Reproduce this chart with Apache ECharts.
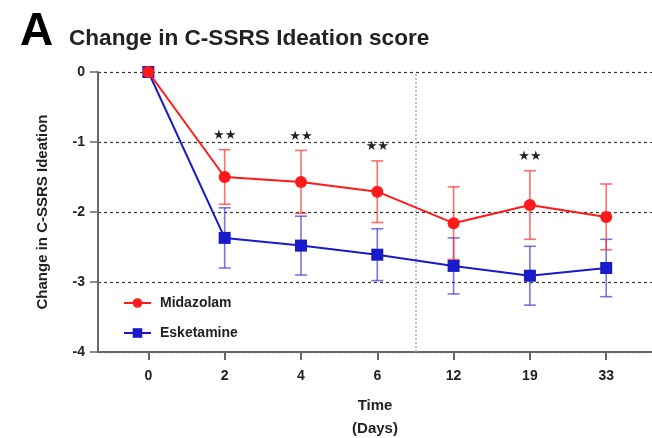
<!DOCTYPE html>
<html>
<head>
<meta charset="utf-8">
<script src="https://cdn.jsdelivr.net/npm/echarts@6/dist/echarts.min.js"></script>
<style>
  html, body { margin: 0; padding: 0; background: #fff; }
  #chart { width: 652px; height: 438px; }
</style>
</head>
<body>
<div id="chart"></div>
<script>
// Visit days (x categories)
const days = ['0', '2', '4', '6', '12', '19', '33'];

// Mean change from baseline and error half-widths
const midazolamMean = [0, -1.50, -1.57, -1.71, -2.16, -1.90, -2.07];
const midazolamErr  = [0, 0.39, 0.45, 0.44, 0.52, 0.49, 0.47];
const esketamineMean = [0, -2.37, -2.48, -2.61, -2.77, -2.91, -2.80];
const esketamineErr  = [0, 0.43, 0.42, 0.37, 0.40, 0.42, 0.41];

// Between-group significance markers per visit
const significance = ['', '★★', '★★', '★★', '', '★★', ''];

// Y-axis ticks
const yTicks = [0, -1, -2, -3, -4];

const FONT = "'Liberation Sans', Arial, sans-serif";
const RED = '#ff1a1a';
const BLUE = '#1a1ac8';
const RED_BAR = 'rgba(255,60,60,0.75)';
const BLUE_BAR = 'rgba(60,60,210,0.7)';

const xIdx = days.map((d, i) => i);

function meanData(mean) { return mean.map((v, i) => [i, v]); }
function errData(mean, err, sig) {
  return mean.map((v, i) => [i, v - err[i], v + err[i], sig ? sig[i] : '']);
}

function errorBarRender(color) {
  return function (params, api) {
    const x = api.value(0);
    const lo = api.coord([x, api.value(1)]);
    const hi = api.coord([x, api.value(2)]);
    const half = 6;
    const style = { stroke: color, lineWidth: 1.6, fill: null };
    const children = [];
    if (Math.abs(lo[1] - hi[1]) > 0.5) {
      children.push(
        { type: 'line', shape: { x1: lo[0], y1: lo[1], x2: hi[0], y2: hi[1] }, style },
        { type: 'line', shape: { x1: lo[0] - half, y1: lo[1], x2: lo[0] + half, y2: lo[1] }, style },
        { type: 'line', shape: { x1: hi[0] - half, y1: hi[1], x2: hi[0] + half, y2: hi[1] }, style }
      );
    }
    const mark = api.value(3);
    if (mark) {
      children.push({
        type: 'text',
        style: {
          x: hi[0], y: hi[1] - 14, text: mark,
          fill: '#222', font: "13px 'DejaVu Sans', sans-serif",
          align: 'center', verticalAlign: 'middle'
        }
      });
    }
    return { type: 'group', children };
  };
}

const chart = echarts.init(document.getElementById('chart'), null, { renderer: 'canvas' });

chart.setOption({
  animation: false,
  backgroundColor: '#fff',
  title: [
    { text: 'A', left: 15, top: 4,
      textStyle: { fontFamily: FONT, fontSize: 46, fontWeight: 'bold', color: '#000' } },
    { text: 'Change in C-SSRS Ideation score', left: 64, top: 22,
      textStyle: { fontFamily: FONT, fontSize: 22.6, fontWeight: 'bold', color: '#222' } }
  ],
  grid: { left: 98, right: 0, top: 72, bottom: 86, containLabel: false, outerBoundsMode: 'none' },
  legend: {
    orient: 'vertical', left: 118, top: 291,
    itemWidth: 27, itemHeight: 12, itemGap: 16,
    data: ['Midazolam', 'Esketamine'],
    textStyle: { fontFamily: FONT, fontSize: 14, fontWeight: 'bold', color: '#222', padding: [0, 0, 0, 4] }
  },
  xAxis: {
    type: 'value', min: -0.66, max: 6.6,
    name: 'Time\n(Days)', nameLocation: 'middle', nameGap: 42,
    nameTextStyle: { fontFamily: FONT, fontSize: 15, fontWeight: 'bold', color: '#222', lineHeight: 23 },
    axisLine: { show: true, onZero: false, lineStyle: { color: '#666', width: 2 } },
    axisTick: { show: true, length: 8, customValues: xIdx, lineStyle: { color: '#666', width: 2 } },
    axisLabel: {
      customValues: xIdx, margin: 17,
      formatter: v => days[Math.round(v)],
      fontFamily: FONT, fontSize: 14, fontWeight: 'bold', color: '#222'
    },
    splitLine: { show: false }
  },
  yAxis: {
    type: 'value', min: -4, max: 0, interval: 1,
    name: 'Change in C-SSRS Ideation', nameLocation: 'middle', nameGap: 48, nameRotate: 90,
    nameTextStyle: { fontFamily: FONT, fontSize: 15, fontWeight: 'bold', color: '#222' },
    axisLine: { show: true, onZero: false, lineStyle: { color: '#666', width: 2 } },
    axisTick: { show: true, length: 8, lineStyle: { color: '#666', width: 1.5 } },
    axisLabel: {
      margin: 13, formatter: v => (yTicks.indexOf(v) >= 0 ? String(v) : ''),
      fontFamily: FONT, fontSize: 14, fontWeight: 'bold', color: '#222'
    },
    splitLine: { show: true, lineStyle: { color: '#333', width: 1.2, type: [3, 3] } }
  },
  series: [
    {
      name: 'Esketamine err', type: 'custom', z: 3,
      renderItem: errorBarRender(BLUE_BAR),
      data: errData(esketamineMean, esketamineErr, null),
      encode: { x: 0, y: [1, 2] }, silent: true
    },
    {
      name: 'Midazolam err', type: 'custom', z: 4,
      renderItem: errorBarRender(RED_BAR),
      data: errData(midazolamMean, midazolamErr, significance),
      encode: { x: 0, y: [1, 2] }, silent: true
    },
    {
      name: 'Esketamine', type: 'line', z: 5,
      data: meanData(esketamineMean),
      symbol: 'rect', symbolSize: 12,
      itemStyle: { color: BLUE }, lineStyle: { color: BLUE, width: 2 },
      markLine: {
        silent: true, symbol: 'none', label: { show: false },
        lineStyle: { color: '#aaa', width: 1.5, type: [2, 2] },
        data: [{ xAxis: 3.5 }]
      }
    },
    {
      name: 'Midazolam', type: 'line', z: 6,
      data: meanData(midazolamMean),
      symbol: 'circle', symbolSize: 12,
      itemStyle: { color: RED }, lineStyle: { color: RED, width: 2 }
    }
  ]
});
</script>
</body>
</html>
